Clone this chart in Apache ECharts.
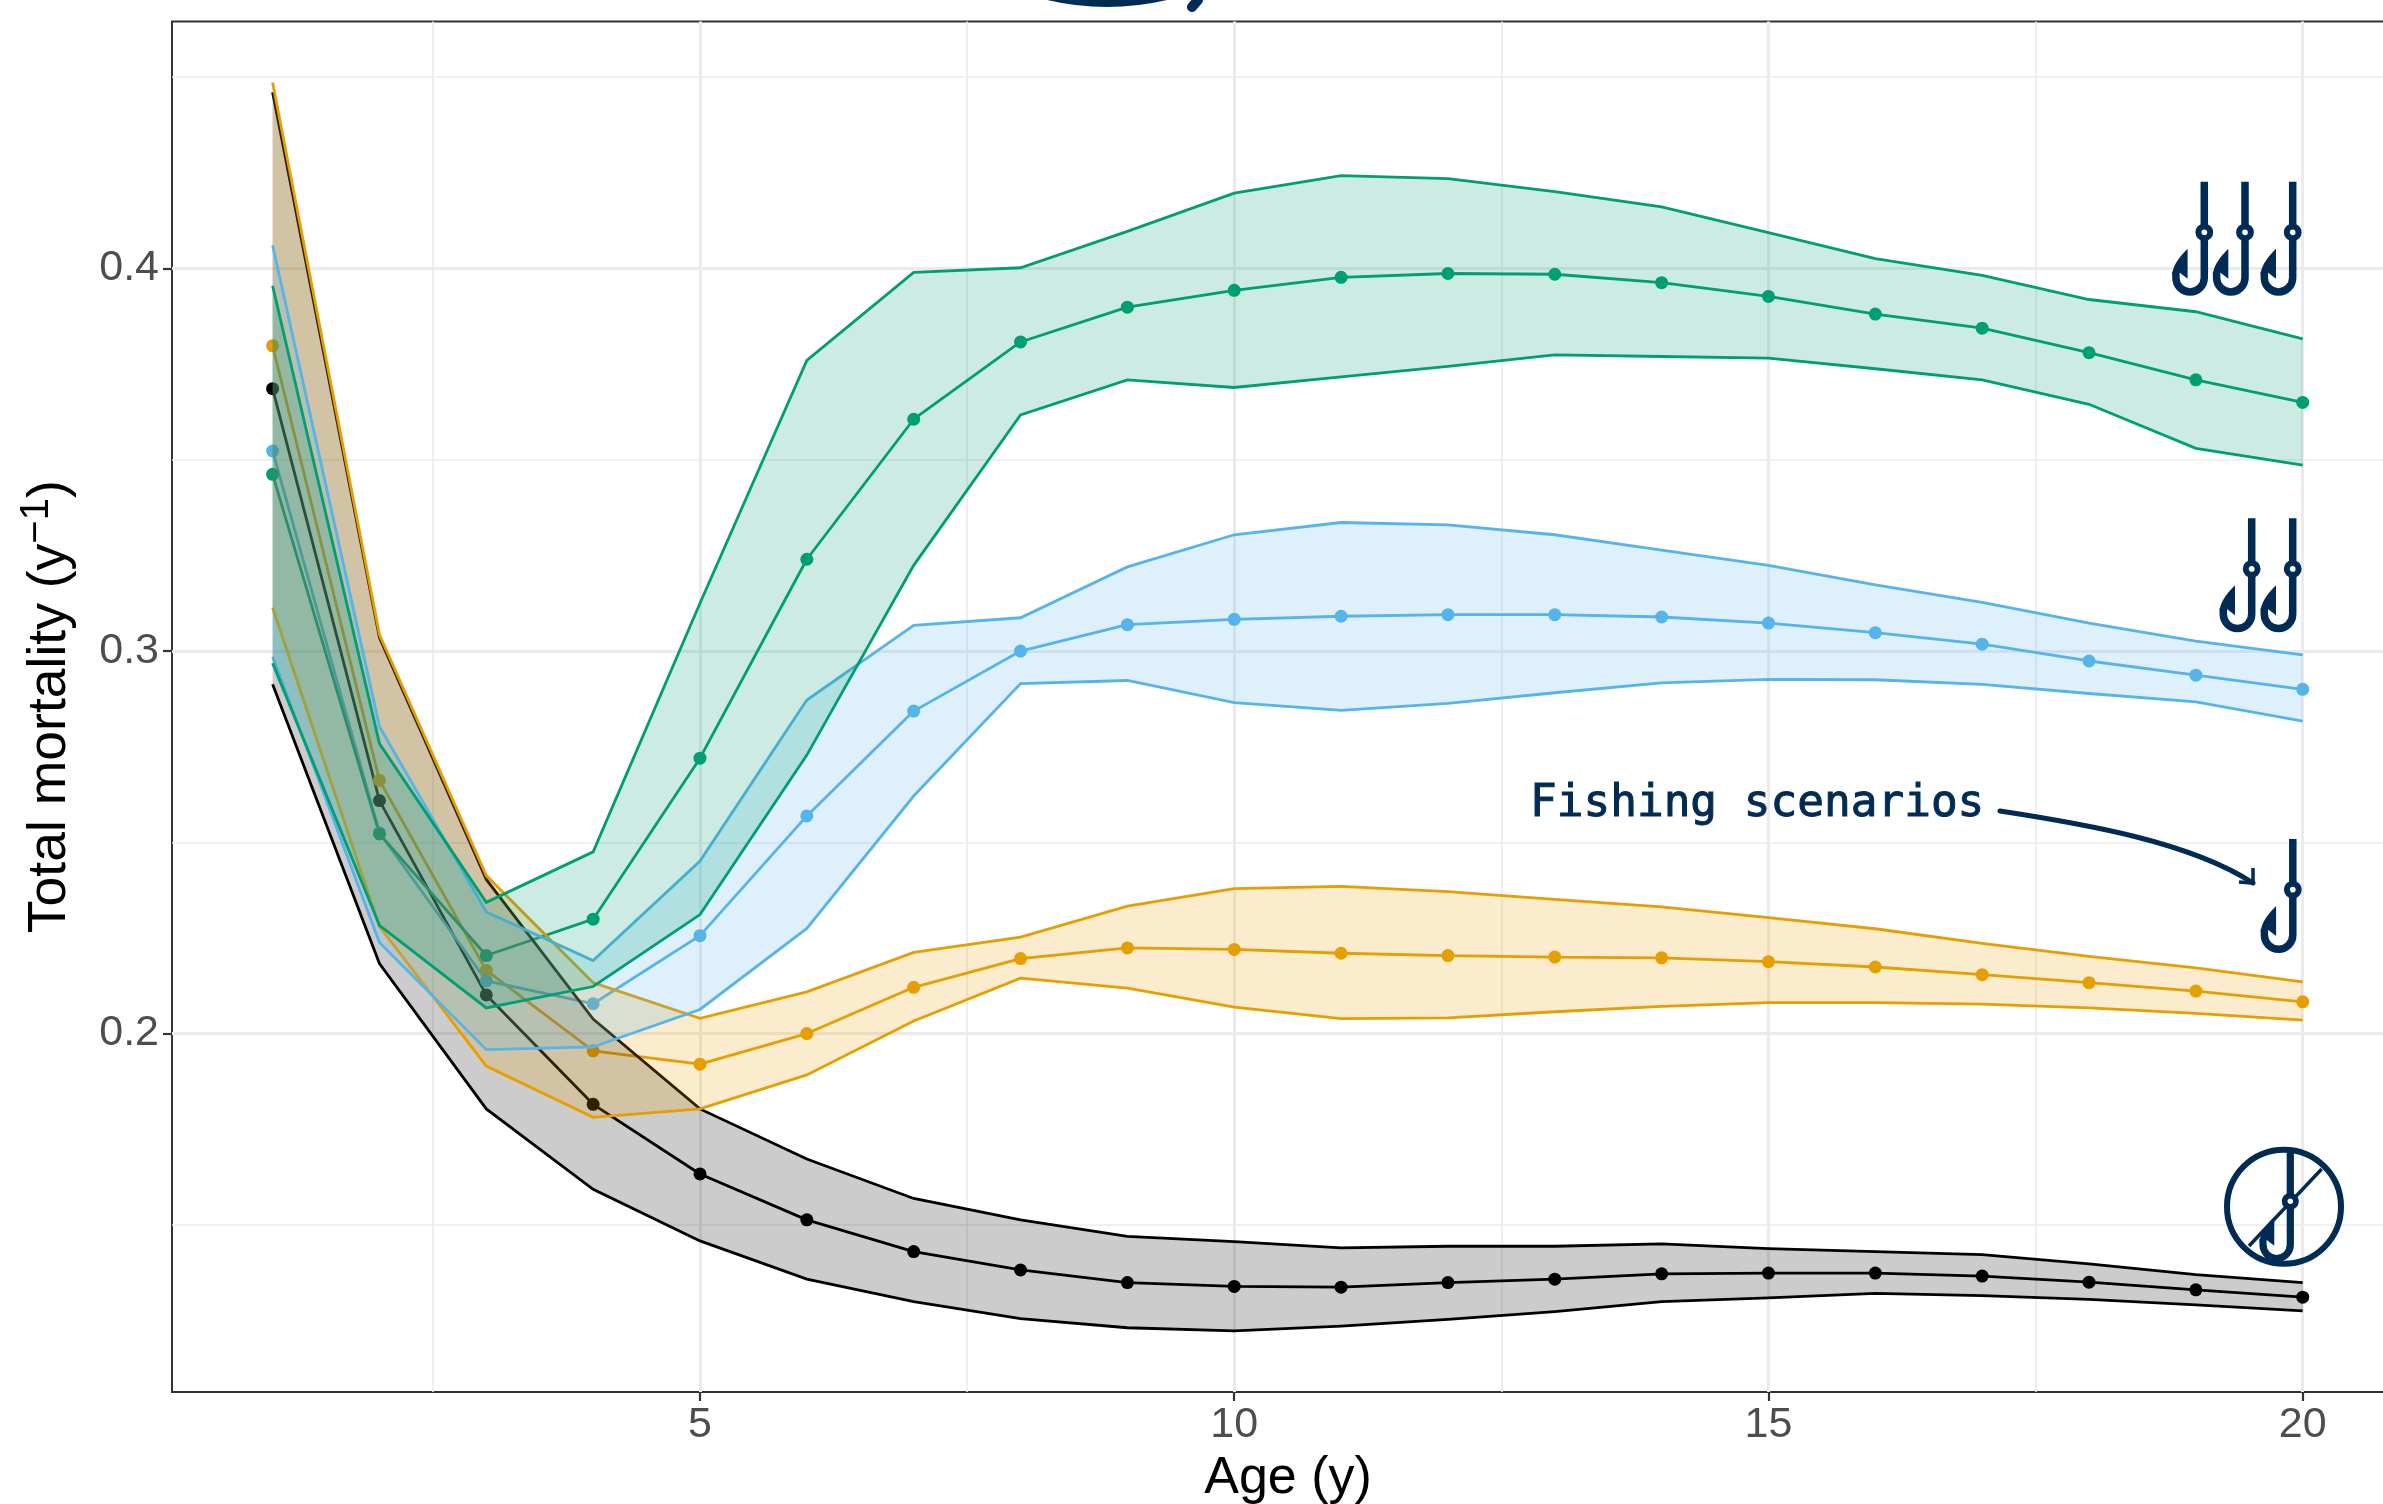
<!DOCTYPE html>
<html>
<head>
<meta charset="utf-8">
<style>html,body{margin:0;padding:0;background:#fff}#c{width:2383px;height:1504px}</style>
<script src="https://cdn.jsdelivr.net/npm/echarts@6/dist/echarts.min.js"></script>
</head>
<body>
<div id="c"></div>
<script>
const ages = [1,2,3,4,5,6,7,8,9,10,11,12,13,14,15,16,17,18,19,20];
const xTicks = [5,10,15,20];
const xMinorTicks = [2.5,7.5,12.5,17.5];
const yTicks = [0.2,0.3,0.4];
const yMinorTicks = [0.15,0.25,0.35,0.45];

const blackMean = [.3686,.2609,.2101,.1815,.1633,.1513,.1430,.1382,.1349,.1339,.1337,.1349,.1358,.1372,.1374,.1374,.1366,.1350,.1330,.1311];
const blackUpper = [.4461,.3035,.2403,.2038,.1803,.1672,.1569,.1513,.1470,.1456,.1440,.1444,.1444,.1450,.1438,.1430,.1422,.1398,.1370,.1349];
const blackLower = [.2913,.2183,.1803,.1593,.1458,.1358,.1299,.1255,.1231,.1223,.1235,.1253,.1273,.1299,.1309,.1321,.1315,.1305,.1291,.1275];

const orangeMean = [.3798,.2662,.2165,.1955,.1920,.2000,.2121,.2196,.2224,.2220,.2210,.2204,.2200,.2198,.2188,.2174,.2154,.2133,.2111,.2083];
const orangeUpper = [.4486,.3043,.2413,.2133,.2040,.2109,.2212,.2252,.2333,.2379,.2385,.2371,.2351,.2331,.2303,.2274,.2236,.2202,.2172,.2135];
const orangeLower = [.3113,.2280,.1915,.1781,.1803,.1892,.2033,.2145,.2119,.2069,.2039,.2041,.2057,.2071,.2081,.2081,.2077,.2067,.2053,.2035];

const blueMean = [.3523,.2525,.2138,.2078,.2256,.2569,.2843,.3000,.3069,.3083,.3091,.3095,.3095,.3089,.3073,.3048,.3018,.2974,.2937,.2900];
const blueUpper = [.4061,.2803,.2318,.2191,.2451,.2872,.3067,.3087,.3220,.3304,.3336,.3330,.3304,.3264,.3224,.3173,.3127,.3073,.3026,.2990];
const blueLower = [.2985,.2238,.1958,.1965,.2063,.2275,.2621,.2915,.2923,.2865,.2845,.2863,.2891,.2917,.2926,.2925,.2913,.2889,.2867,.2817];

const greenMean = [.3462,.2522,.2204,.2299,.2720,.3240,.3606,.3808,.3899,.3943,.3977,.3987,.3985,.3963,.3927,.3881,.3844,.3780,.3709,.3650];
const greenUpper = [.3955,.2758,.2343,.2475,.3125,.3760,.3990,.4002,.4097,.4197,.4243,.4235,.4201,.4161,.4094,.4026,.3982,.3919,.3887,.3816];
const greenLower = [.2968,.2283,.2067,.2123,.2311,.2728,.3224,.3617,.3709,.3689,.3717,.3744,.3774,.3770,.3766,.3738,.3709,.3645,.3530,.3486];

const annotationText = 'Fishing scenarios';
const NAVY = '#002B55';
const LW = 2.8;
const groups = [
  {color:'#000000', fill:'rgba(0,0,0,0.2)',       mean:blackMean,  up:blackUpper,  lo:blackLower},
  {color:'#E69F00', fill:'rgba(230,159,0,0.2)',   mean:orangeMean, up:orangeUpper, lo:orangeLower},
  {color:'#56B4E9', fill:'rgba(86,180,233,0.2)',  mean:blueMean,   up:blueUpper,   lo:blueLower},
  {color:'#009E73', fill:'rgba(0,158,115,0.2)',   mean:greenMean,  up:greenUpper,  lo:greenLower}
];

function hook(x, y, s) {
  return {
    type:'group', x:x, y:y, scaleX:s, scaleY:s,
    children:[
      {type:'path', shape:{pathData:'M0 0 L0 96 A14.2 14.2 0 0 1 -28.4 96 L-28.4 90'},
       style:{fill:'none', stroke:NAVY, lineWidth:7.5}},
      {type:'path', shape:{pathData:'M-16.7 67 L-16.7 97 L-24.5 91 L-32 93 Q-32 82 -16.7 67 Z'},
       style:{fill:NAVY, stroke:'none'}},
      {type:'circle', shape:{cx:0, cy:50.6, r:5.9}, style:{fill:'#fff', stroke:NAVY, lineWidth:6}}
    ]
  };
}

const annotationElements = [
  hook(2204.3,181.7,1), hook(2245,181.7,1), hook(2292.7,181.7,1),
  hook(2251.7,518.3,1), hook(2292.7,518.3,1),
  hook(2292.8,839,1),
  {type:'circle', shape:{cx:2284, cy:1206.7, r:57}, style:{fill:'none', stroke:NAVY, lineWidth:6}},
  {type:'line', shape:{x1:2249,y1:1246,x2:2321.7,y2:1169}, style:{stroke:NAVY, lineWidth:3.5}},
  hook(2290.3,1152.7,0.96),
  {type:'text', x:1530, y:804, style:{text:annotationText, fontFamily:'DejaVu Sans Mono', fontSize:44.4, fill:NAVY, stroke:NAVY, lineWidth:1, verticalAlign:'middle', align:'left'}},
  {type:'path', shape:{pathData:'M2000 811 C2085 824 2190 842 2253 883'}, style:{fill:'none', stroke:NAVY, lineWidth:5, lineCap:'round'}},
  {type:'polyline', shape:{points:[[2253,868],[2253,883],[2239,882]]}, style:{fill:'none', stroke:NAVY, lineWidth:3.5}},
  {type:'path', shape:{pathData:'M1047 0 Q1107 14 1167 0 Z'}, style:{fill:NAVY}},
  {type:'path', shape:{pathData:'M1198 0 L1192 7'}, style:{fill:'none', stroke:NAVY, lineWidth:10, lineCap:'round'}}
];

const chart = echarts.init(document.getElementById('c'), null, {renderer:'canvas'});

const series = [];
series.push({
  type:'line', data:[], silent:true, z:1, animation:false,
  markLine:{
    silent:true, symbol:'none', z:1, animation:false, label:{show:false},
    lineStyle:{color:'#EBEBEB', width:1.6, type:'solid'},
    data: xMinorTicks.map(v=>({xAxis:v})).concat(yMinorTicks.map(v=>({yAxis:v})))
  }
});
groups.forEach(g=>{
  series.push({
    type:'line', z:3, silent:true, animation:false,
    data: ages.map((a,i)=>[a,g.mean[i]]),
    showSymbol:true, showAllSymbol:true, symbol:'circle', symbolSize:13,
    lineStyle:{color:g.color,width:LW}, itemStyle:{color:g.color}
  });
});
groups.forEach((g,k)=>{
  series.push({
    type:'custom', z:4+k, silent:true, animation:false,
    data: ages.map((a,i)=>[a,g.up[i],g.lo[i]]),
    encode:{x:0,y:[1,2]},
    renderItem:function(params, api){
      if(params.dataIndex!==0) return null;
      const upper = ages.map((a,i)=>api.coord([a,g.up[i]]));
      const lower = ages.map((a,i)=>api.coord([a,g.lo[i]]));
      const poly = upper.concat(lower.slice().reverse());
      return {type:'group', children:[
        {type:'polygon', shape:{points:poly}, style:{fill:g.fill, stroke:'none'}},
        {type:'polyline', shape:{points:upper}, style:{fill:'none', stroke:g.color, lineWidth:LW}},
        {type:'polyline', shape:{points:lower}, style:{fill:'none', stroke:g.color, lineWidth:LW}}
      ]};
    }
  });
});
series.push({
  type:'custom', z:20, silent:true, animation:false, clip:false,
  data:[[10,0.3]], encode:{x:0,y:1},
  renderItem:function(){ return {type:'group', children:annotationElements}; }
});

chart.setOption({
  animation:false,
  backgroundColor:'#fff',
  grid:{show:true, left:172, top:21.4, width:2232, height:1370.6, borderColor:'#333333', borderWidth:2, backgroundColor:'transparent', outerBoundsMode:'none'},
  xAxis:{
    type:'value', min:0.0585, max:20.948, name:'Age (y)', nameLocation:'middle', nameGap:61,
    nameTextStyle:{fontFamily:'Liberation Sans', fontSize:52, color:'#000'},
    axisLine:{show:false},
    axisTick:{show:true, length:9, customValues:xTicks, lineStyle:{color:'#333333', width:2.2}},
    axisLabel:{show:true, customValues:xTicks, margin:12, fontFamily:'Liberation Sans', fontSize:43, color:'#4D4D4D'},
    splitLine:{show:true, lineStyle:{color:'#EBEBEB', width:3}}
  },
  yAxis:{
    type:'value', min:0.1063, max:0.4646, nameLocation:'middle', nameGap:95,
    name:'{a|Total mortality (y}{b|−1}{a|)}',
    nameTextStyle:{rich:{
      a:{fontFamily:'Liberation Sans', fontSize:53.5, color:'#000', lineHeight:60, verticalAlign:'bottom'},
      b:{fontFamily:'Liberation Sans', fontSize:40, color:'#000', lineHeight:60, verticalAlign:'top', padding:[0,0,14,0]}
    }},
    axisLine:{show:false},
    axisTick:{show:true, length:9, customValues:yTicks, lineStyle:{color:'#333333', width:2.2}},
    axisLabel:{show:true, customValues:yTicks, margin:13, padding:[9,0,0,0], fontFamily:'Liberation Sans', fontSize:43, color:'#4D4D4D', formatter:v=>v.toFixed(1)},
    splitLine:{show:true, lineStyle:{color:'#EBEBEB', width:3}}
  },
  series:series
});
</script>
</body>
</html>
